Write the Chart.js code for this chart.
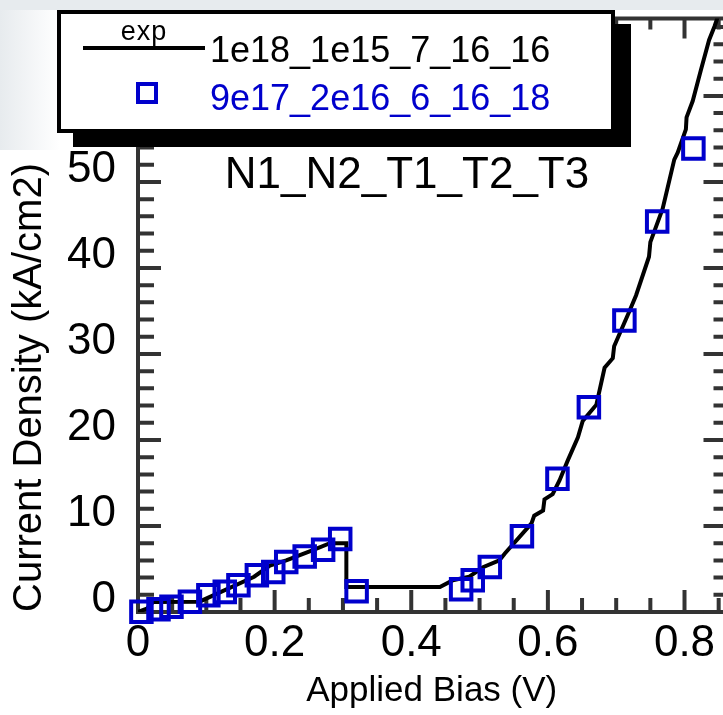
<!DOCTYPE html>
<html>
<head>
<meta charset="utf-8">
<title>Current Density vs Applied Bias</title>
<script src="https://cdn.jsdelivr.net/npm/chart.js@4.4.1/dist/chart.umd.min.js"></script>
<style>
  html, body { margin: 0; padding: 0; overflow: hidden; background: #fff; }
  #wrap {
    position: relative; width: 723px; height: 715px; overflow: hidden;
    background:
      linear-gradient(#e7ebee, #e7ebee) 0 0 / 100% 10px no-repeat,
      linear-gradient(to right, #e7ebee, rgba(231, 235, 238, 0)) 0 0 / 60px 150px no-repeat,
      #fff;
  }
  #plot { position: absolute; left: 0; top: 0; }
  #legend {
    position: absolute; left: 57px; top: 10px; width: 558px; height: 123px;
    box-sizing: border-box; border: 4px solid #000; background: #fff;
    box-shadow: 16px 14px 0 #000;
    font-family: Arial, "Liberation Sans", sans-serif;
  }
  #legend .lg { position: absolute; white-space: nowrap; }
</style>
</head>
<body>
<div id="wrap">
  <canvas id="plot" width="744" height="715"></canvas>
  <div id="legend"></div>
</div>
<script>
// measured J-V curve
const biasExp = [0, 0.013, 0.022, 0.09, 0.17, 0.193, 0.217, 0.256, 0.281, 0.305, 0.305, 0.442,
  0.461, 0.485, 0.505, 0.529, 0.537, 0.576, 0.58, 0.593, 0.595, 0.607, 0.617, 0.629, 0.644,
  0.651, 0.671, 0.683, 0.695, 0.697, 0.719, 0.729, 0.748, 0.75, 0.768, 0.785, 0.79, 0.802,
  0.803, 0.812, 0.824, 0.836, 0.844, 0.85, 0.856];
const jExp = [0, 0.4, 1.15, 1.2, 4.1, 5.4, 6.0, 7.2, 8.0, 8.0, 2.9, 2.9,
  3.7, 4.1, 5.2, 6.0, 6.8, 10.3, 11.2, 11.8, 13.1, 13.7, 15.3, 17.6, 20.3,
  22.2, 24.1, 28.4, 29.5, 30.9, 34.9, 36.8, 41.3, 43.0, 46.9, 52.6, 53.4, 56.1,
  57.5, 59.4, 63.0, 66.5, 68.1, 69.5, 72];

// simulated points
const biasSim = [0.005, 0.03, 0.049, 0.076, 0.103, 0.127, 0.147, 0.174, 0.198, 0.217, 0.244,
  0.271, 0.296, 0.32, 0.473, 0.49, 0.515, 0.562, 0.614, 0.66, 0.712, 0.76, 0.813];
const jSim = [0.03, 0.31, 0.61, 1.19, 1.96, 2.34, 3.1, 4.27, 4.65, 5.8, 6.46,
  7.23, 8.5, 2.4, 2.65, 3.69, 5.23, 8.8, 15.5, 23.8, 33.9, 45.4, 53.9];

const labelExp = '1e18_1e15_7_16_16';
const tagExp = 'exp';
const labelSim = '9e17_2e16_6_16_18';
const paramTitle = 'N1_N2_T1_T2_T3';

const xRange = [0, 0.86];
const yRange = [0, 69];
const xMajor = 0.2, xMinor = 0.05;
const yMajor = 10, yMinor = 2;

const axisColor = '#333333';
const simColor = '#0000cc';
const fontFamily = 'Arial, "Liberation Sans", sans-serif';

function toPoints(xs, ys) {
  return xs.map(function (v, i) { return { x: v, y: ys[i] }; });
}

// scales keep a fixed size, no extra room for overhanging labels
function noPadding(s) {
  s.paddingLeft = 0;
  s.paddingRight = 0;
  s.paddingTop = 0;
  s.paddingBottom = 0;
}

// box around the plot with inward ticks on all four sides
const frameTicks = {
  id: 'frameTicks',
  beforeDatasetsDraw(chart) {
    const ctx = chart.ctx;
    const a = chart.chartArea;
    const x = chart.scales.x, y = chart.scales.y;
    ctx.save();
    ctx.strokeStyle = axisColor;
    ctx.lineWidth = 4;
    ctx.strokeRect(a.left, a.top, a.right - a.left, a.bottom - a.top);
    ctx.beginPath();
    for (let i = 0; i * xMinor <= x.max + 1e-9; i++) {
      const v = i * xMinor;
      const px = x.getPixelForValue(v);
      const major = Math.abs(v / xMajor - Math.round(v / xMajor)) < 1e-6;
      ctx.moveTo(px, a.bottom);
      ctx.lineTo(px, a.bottom - (major ? 22 : 14));
      ctx.moveTo(px, a.top);
      ctx.lineTo(px, a.top + (major ? 20 : 11));
    }
    for (let i = 0; i * yMinor <= y.max + 1e-9; i++) {
      const v = i * yMinor;
      const py = y.getPixelForValue(v);
      const major = v % yMajor === 0;
      ctx.moveTo(a.left, py);
      ctx.lineTo(a.left + (major ? 23 : 16), py);
      ctx.moveTo(a.right, py);
      ctx.lineTo(a.right - (major ? 22 : 12), py);
    }
    ctx.stroke();

    ctx.fillStyle = '#000';
    ctx.font = '44px ' + fontFamily;
    ctx.textAlign = 'center';
    ctx.textBaseline = 'middle';
    ctx.fillText(paramTitle, 407, 176);
    ctx.restore();
  }
};

const chart = new Chart(document.getElementById('plot'), {
  type: 'scatter',
  data: {
    datasets: [{
      label: labelExp,
      data: toPoints(biasExp, jExp),
      showLine: true,
      borderColor: '#000',
      borderWidth: 4,
      pointRadius: 0,
      tension: 0,
      order: 2
    }, {
      label: labelSim,
      data: toPoints(biasSim, jSim),
      showLine: false,
      pointStyle: 'rect',
      pointRadius: 14.5,
      pointHoverRadius: 14.5,
      borderColor: simColor,
      backgroundColor: 'rgba(0,0,0,0)',
      borderWidth: 4,
      clip: false,
      order: 1
    }]
  },
  options: {
    responsive: false,
    animation: false,
    layout: { padding: { top: 14, right: 9, left: 0, bottom: 0 } },
    plugins: {
      legend: { display: false },
      tooltip: { enabled: false }
    },
    scales: {
      x: {
        type: 'linear',
        min: xRange[0],
        max: xRange[1],
        grid: { display: false, drawTicks: false },
        border: { display: false },
        ticks: {
          stepSize: xMajor,
          includeBounds: false,
          padding: 5,
          color: '#000',
          font: { family: fontFamily, size: 44 },
          callback: function (v) { return v === 0 ? '0' : v.toFixed(1); }
        },
        title: {
          display: true,
          text: 'Applied Bias (V)',
          color: '#000',
          font: { family: fontFamily, size: 35 },
          padding: { top: 0, bottom: 3 }
        },
        afterFit: function (s) {
          s.height = 103;
          noPadding(s);
        }
      },
      y: {
        type: 'linear',
        min: yRange[0],
        max: yRange[1],
        grid: { display: false, drawTicks: false },
        border: { display: false },
        ticks: {
          stepSize: yMajor,
          includeBounds: false,
          padding: 22,
          labelOffset: -12,
          color: '#000',
          font: { family: fontFamily, size: 44 }
        },
        title: {
          display: true,
          text: 'Current Density (kA/cm2)',
          align: 'start',
          color: '#000',
          font: { family: fontFamily, size: 40 },
          padding: { top: 6, bottom: 0 }
        },
        afterFit: function (s) {
          s.width = 138;
          noPadding(s);
        }
      }
    }
  },
  plugins: [frameTicks]
});

// legend box with drop shadow, built from the datasets
function buildLegend(c) {
  const box = document.getElementById('legend');
  const line = c.data.datasets[0], marks = c.data.datasets[1];

  const sample = document.createElement('div');
  sample.className = 'lg';
  sample.style.cssText = 'left:22px;top:32px;width:122px;height:0;border-top:' +
    line.borderWidth + 'px solid ' + line.borderColor + ';';
  box.appendChild(sample);

  const tag = document.createElement('div');
  tag.className = 'lg';
  tag.textContent = tagExp;
  tag.style.cssText = 'left:22px;width:122px;top:4px;text-align:center;font-size:27px;line-height:26px;letter-spacing:1px;color:#000;';
  box.appendChild(tag);

  const t1 = document.createElement('div');
  t1.className = 'lg';
  t1.textContent = line.label;
  t1.style.cssText = 'left:149px;top:16px;font-size:36px;line-height:40px;color:#000;';
  box.appendChild(t1);

  const sq = document.createElement('div');
  sq.className = 'lg';
  sq.style.cssText = 'left:75px;top:68px;width:22px;height:22px;box-sizing:border-box;border:' +
    marks.borderWidth + 'px solid ' + marks.borderColor + ';';
  box.appendChild(sq);

  const t2 = document.createElement('div');
  t2.className = 'lg';
  t2.textContent = marks.label;
  t2.style.cssText = 'left:149px;top:64px;font-size:36px;line-height:40px;color:' + marks.borderColor + ';';
  box.appendChild(t2);
}
buildLegend(chart);
</script>
</body>
</html>
